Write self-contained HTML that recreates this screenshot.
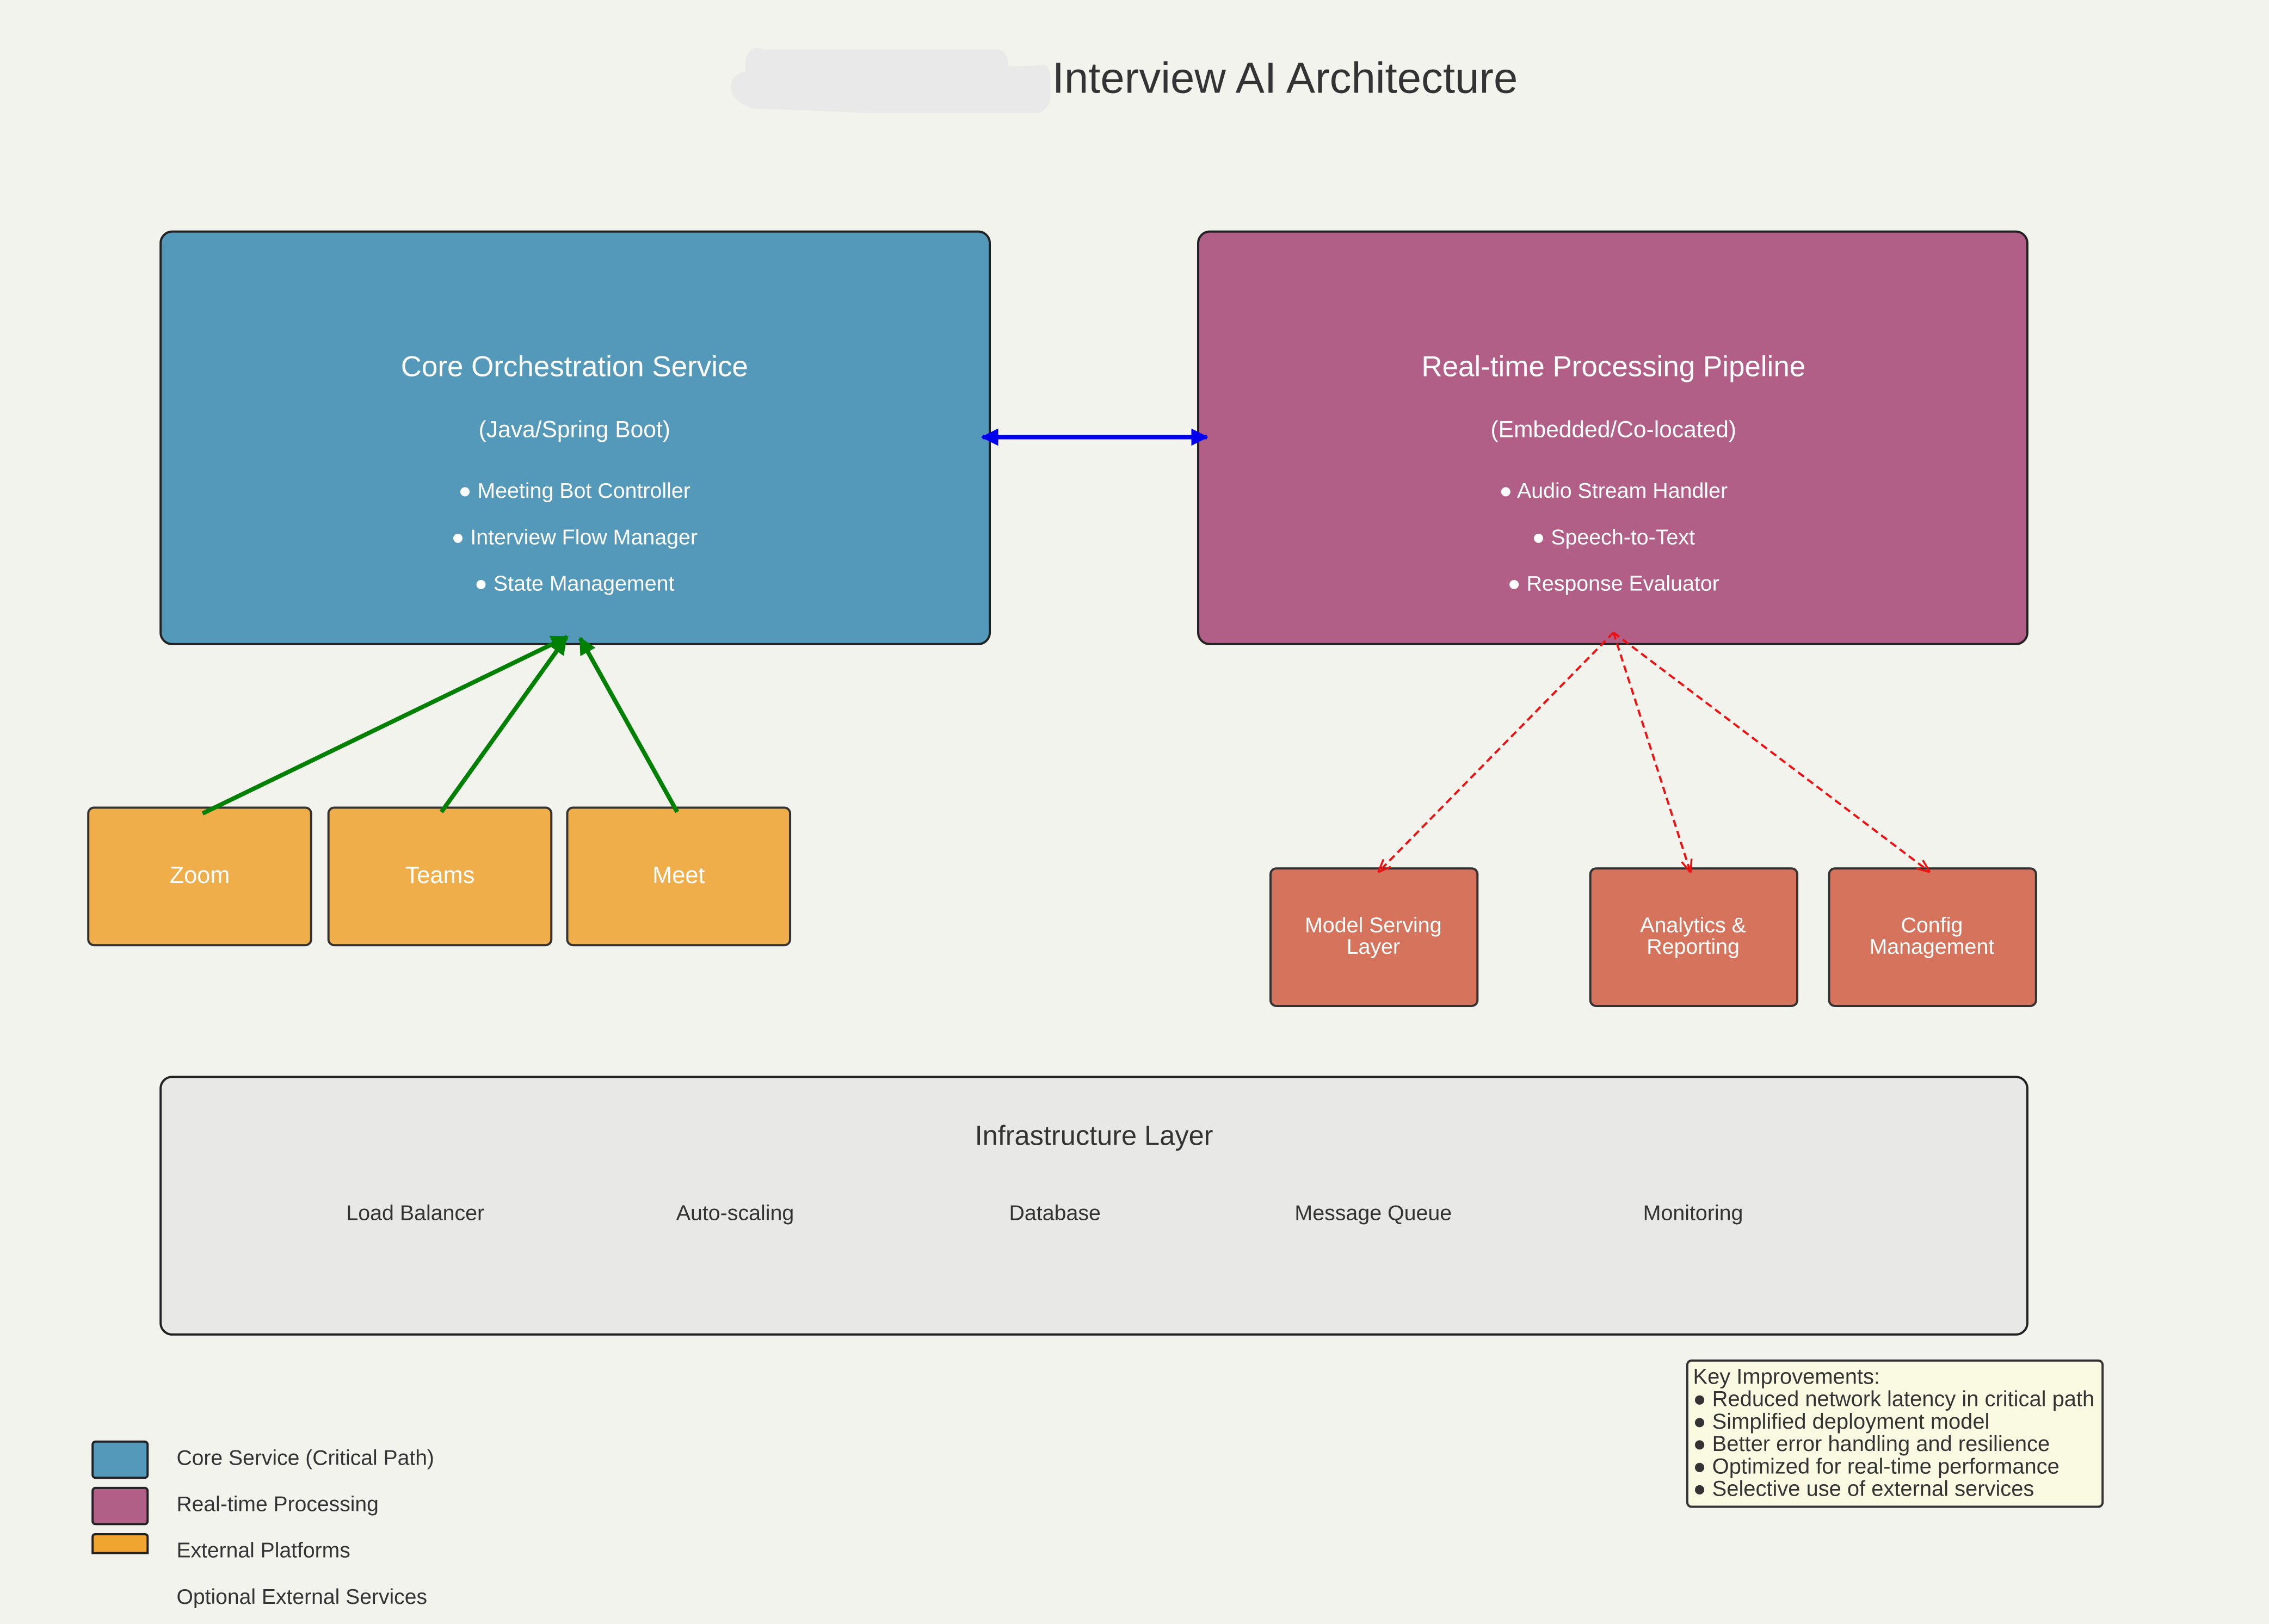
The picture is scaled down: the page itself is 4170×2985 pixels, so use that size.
<!DOCTYPE html>
<html><head><meta charset="utf-8"><style>
html,body{margin:0;padding:0;background:#f3f3ee;}
svg{display:block;}
text{font-family:"Liberation Sans",sans-serif;}
</style></head><body>
<svg width="4170" height="2985" viewBox="0 0 1568 1122" preserveAspectRatio="none" xmlns="http://www.w3.org/2000/svg">
<defs>
<marker id="bl" viewBox="0 0 10 10" refX="9" refY="5" markerWidth="4" markerHeight="4" orient="auto-start-reverse"><path d="M0,0L10,5L0,10z" fill="#0000ee"/></marker>
<marker id="gr" viewBox="0 0 10 10" refX="9" refY="5" markerWidth="4" markerHeight="4" orient="auto"><path d="M0,0L10,5L0,10z" fill="#008000"/></marker>
<marker id="rd" viewBox="0 0 10 10" refX="9" refY="5" markerWidth="6" markerHeight="6" orient="auto"><path d="M0,1L10,5L0,9" fill="none" stroke="#ee1111" stroke-width="1.5"/></marker>
</defs>
<rect width="1568" height="1122" fill="#f3f3ee"/>
<path d="M515,42 Q518,30 528,34 L690,34 Q697,36 697,46 L720,45 Q725,42 726,55 L726,70 Q720,80 715,78 L600,78 L520,75 Q505,70 505,60 Q506,50 515,50 Z" fill="#e9e9e9"/>
<text x="888" y="64" font-size="30" fill="#333" text-anchor="middle">Interview AI Architecture</text>

<rect x="111" y="160" width="573" height="285" rx="8" fill="#5499b9" stroke="#222" stroke-width="1.5"/>
<g fill="#fff" text-anchor="middle">
<text x="397" y="260" font-size="19.9">Core Orchestration Service</text>
<text x="397" y="302" font-size="16">(Java/Spring Boot)</text>
<text x="397" y="344" font-size="14.8">● Meeting Bot Controller</text>
<text x="397" y="376" font-size="14.8">● Interview Flow Manager</text>
<text x="397" y="408" font-size="14.8">● State Management</text>
</g>
<rect x="828" y="160" width="573" height="285" rx="8" fill="#b15f87" stroke="#222" stroke-width="1.5"/>
<g fill="#fff" text-anchor="middle">
<text x="1115" y="260" font-size="19.9">Real-time Processing Pipeline</text>
<text x="1115" y="302" font-size="16">(Embedded/Co-located)</text>
<text x="1115" y="344" font-size="14.8">● Audio Stream Handler</text>
<text x="1115" y="376" font-size="14.8">● Speech-to-Text</text>
<text x="1115" y="408" font-size="14.8">● Response Evaluator</text>
</g>
<line x1="679" y1="302" x2="834" y2="302" stroke="#0000ee" stroke-width="3" marker-start="url(#bl)" marker-end="url(#bl)"/>

<g stroke="#333" stroke-width="1.5" fill="#f0ae4a">
<rect x="61" y="558" width="154" height="95" rx="4"/>
<rect x="227" y="558" width="154" height="95" rx="4"/>
<rect x="392" y="558" width="154" height="95" rx="4"/>
</g>
<g fill="#fff" font-size="16.3" text-anchor="middle">
<text x="138" y="610">Zoom</text><text x="304" y="610">Teams</text><text x="469" y="610">Meet</text>
</g>
<g stroke="#008000" stroke-width="3" fill="none">
<line x1="140" y1="562" x2="392" y2="440" marker-end="url(#gr)"/>
<line x1="305" y1="561" x2="391" y2="441" marker-end="url(#gr)"/>
<line x1="468" y1="561" x2="401" y2="441" marker-end="url(#gr)"/>
</g>

<g stroke="#333" stroke-width="1.5" fill="#d5735c">
<rect x="878" y="600" width="143" height="95" rx="4"/>
<rect x="1099" y="600" width="143" height="95" rx="4"/>
<rect x="1264" y="600" width="143" height="95" rx="4"/>
</g>
<g fill="#fff" font-size="14.8" text-anchor="middle">
<text x="949" y="644">Model Serving</text><text x="949" y="659">Layer</text>
<text x="1170" y="644">Analytics &amp;</text><text x="1170" y="659">Reporting</text>
<text x="1335" y="644">Config</text><text x="1335" y="659">Management</text>
</g>
<g stroke="#ee1111" stroke-width="1.5" fill="none" stroke-dasharray="5,3">
<line x1="1115" y1="437" x2="953" y2="602" marker-end="url(#rd)"/>
<line x1="1115" y1="437" x2="1168" y2="602" marker-end="url(#rd)"/>
<line x1="1115" y1="437" x2="1333" y2="602" marker-end="url(#rd)"/>
</g>

<rect x="111" y="744" width="1290" height="178" rx="8" fill="#e8e8e6" stroke="#222" stroke-width="1.5"/>
<g fill="#333" text-anchor="middle">
<text x="756" y="791" font-size="19">Infrastructure Layer</text>
<g font-size="14.8">
<text x="287" y="843">Load Balancer</text>
<text x="508" y="843">Auto-scaling</text>
<text x="729" y="843">Database</text>
<text x="949" y="843">Message Queue</text>
<text x="1170" y="843">Monitoring</text>
</g></g>

<rect x="1166" y="940" width="287" height="101" rx="3" fill="#fafae2" stroke="#333" stroke-width="1.5"/>
<g fill="#333" font-size="15">
<text x="1170" y="956">Key Improvements:</text>
<text x="1170" y="971.5">● Reduced network latency in critical path</text>
<text x="1170" y="987">● Simplified deployment model</text>
<text x="1170" y="1002.5">● Better error handling and resilience</text>
<text x="1170" y="1018">● Optimized for real-time performance</text>
<text x="1170" y="1033.5">● Selective use of external services</text>
</g>

<rect x="64" y="996" width="38" height="25" rx="2" fill="#5499b9" stroke="#222" stroke-width="1.5"/>
<rect x="64" y="1028" width="38" height="25" rx="2" fill="#b15f87" stroke="#222" stroke-width="1.5"/>
<path d="M64,1073 L64,1062 Q64,1060 66,1060 L100,1060 Q102,1060 102,1062 L102,1073 Z" fill="#f0a530" stroke="#222" stroke-width="1.5"/>
<g fill="#333" font-size="14.7">
<text x="122" y="1012">Core Service (Critical Path)</text>
<text x="122" y="1044">Real-time Processing</text>
<text x="122" y="1076">External Platforms</text>
<text x="122" y="1108">Optional External Services</text>
</g>
</svg>
</body></html>
